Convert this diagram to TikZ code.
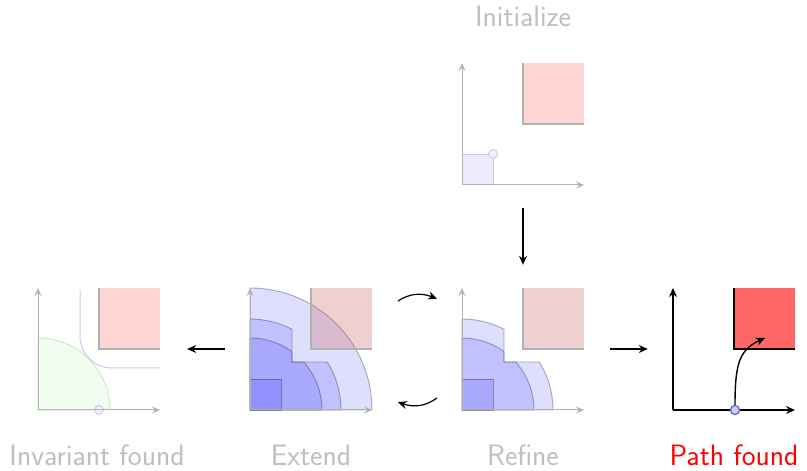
\documentclass[tikz,border=0pt]{standalone}
\usepackage{fontspec}
\usetikzlibrary{arrows.meta,bending}

\definecolor{fadegray}{RGB}{178,178,178}
\definecolor{labelgray}{RGB}{190,190,190}
\definecolor{obstlight}{RGB}{255,214,214}
\definecolor{obstmid}{RGB}{200,100,100}
\definecolor{obststrong}{RGB}{255,102,102}
\definecolor{curveblue}{RGB}{200,200,240}
\definecolor{invgreenfill}{RGB}{242,253,242}
\definecolor{invgreenline}{RGB}{200,232,200}
\definecolor{startline}{RGB}{90,90,230}
\definecolor{startfill}{RGB}{205,205,255}

\tikzset{
  lbl/.style={font=\sffamily\fontsize{29.5}{35}\selectfont, text=labelgray,
              anchor=base, inner sep=0pt},
  panel/.style={minimum width=122pt, minimum height=122pt, inner sep=0pt, draw=none},
  flow/.style={-{Stealth[length=9pt,width=8pt,inset=3pt]}, line width=1.2pt, black},
  curvedflow/.style={flow, -{Stealth[length=9pt,width=8pt,inset=3pt,bend]}},
  fadeaxis/.style={fadegray, line width=1pt, -{Stealth[length=8pt,width=7pt,inset=3pt]}},
  fullaxis/.style={black, line width=1.3pt, -{Stealth[length=9pt,width=8pt,inset=3pt]}},
  layer/.style={fill=blue, fill opacity=0.13, draw=black, draw opacity=0.3, line width=0.9pt},
  marker/.style={circle, minimum size=9pt, inner sep=0pt},
}

% axes of one panel (local origin at the lower left corner)
\newcommand\panelaxes[1]{%
  \draw[#1] (0,0) -- (122,0);
  \draw[#1] (0,0) -- (0,122);
}
% obstacle square, with its left and bottom edges stressed
\newcommand\obstaclesq[3]{%
  \fill[#1] (61,61) rectangle (122,122);
  \draw[#2, line width=#3] (61,122) -- (61,61) -- (122,61);
}
% the stepped sets: quarter discs of radius 91 and 72 with the box x>42, y>48 removed
\newcommand\steppedlayers{%
  \path[layer] (0,0) -- (0,91) arc[start angle=90, end angle=62.51, radius=91]
     -- (42,48) -- (77.31,48) arc[start angle=31.83, end angle=0, radius=91] -- cycle;
  \path[layer] (0,0) -- (0,72) arc[start angle=90, end angle=54.31, radius=72]
     -- (42,48) -- (53.67,48) arc[start angle=41.81, end angle=0, radius=72] -- cycle;
  \path[layer] (0,0) rectangle (31,31);
}

\begin{document}
\begin{tikzpicture}[x=1pt,y=1pt]
\useasboundingbox (0,0) rectangle (807,471);

% ---------- Initialize ----------
\begin{scope}[shift={(462,286)}]
  \obstaclesq{obstlight}{fadegray}{1.6pt}
  \fill[blue, opacity=0.07] (0,0) rectangle (31,31);
  \draw[curveblue, line width=0.9pt] (0,31) -- (31,31) -- (31,0);
  \draw[curveblue, line width=0.9pt, fill=blue!6] (31,31) circle[radius=4.5];
  \panelaxes{fadeaxis}
\end{scope}
\node[panel] (init) at (523,347) {};
\node[lbl] (tinit) at (523,444) {Initialize};

% ---------- Invariant found ----------
\begin{scope}[shift={(38,61)}]
  \obstaclesq{obstlight}{fadegray}{1.6pt}
  \draw[invgreenline, fill=invgreenfill, line width=0.9pt]
     (0,0) -- (0,72) arc[start angle=90, end angle=0, radius=72] -- cycle;
  \draw[curveblue, line width=1pt, rounded corners=32pt] (42,120) -- (42,42) -- (122,42);
  \draw[curveblue, line width=0.9pt, fill=blue!6] (61,0) circle[radius=4.5];
  \panelaxes{fadeaxis}
\end{scope}
\node[panel] (invariant) at (99,122) {};
\node[lbl] (tinv) at (97,5) {Invariant found};

% ---------- Extend ----------
\begin{scope}[shift={(250,61)}]
  \path[layer] (0,0) -- (0,122) arc[start angle=90, end angle=0, radius=122] -- cycle;
  \steppedlayers
  \obstaclesq{obstmid, opacity=0.3}{fadegray}{1.2pt}
  \panelaxes{fadeaxis}
\end{scope}
\node[panel] (extend) at (311,122) {};
\node[lbl] (text) at (311,5) {Extend};

% ---------- Refine ----------
\begin{scope}[shift={(462,61)}]
  \steppedlayers
  \obstaclesq{obstmid, opacity=0.3}{fadegray}{1.2pt}
  \panelaxes{fadeaxis}
\end{scope}
\node[panel] (refine) at (523,122) {};
\node[lbl] (tref) at (523,5) {Refine};

% ---------- Path found ----------
\begin{scope}[shift={(673,61)}]
  \obstaclesq{obststrong}{black}{2.2pt}
  \panelaxes{fullaxis}
  \node[marker, draw=startline, fill=startfill, line width=1.2pt] (start) at (62,0) {};
  \coordinate (goal) at (92,72);
  \draw[line width=1.4pt, -{Stealth[length=9pt,width=8pt,inset=3pt]}]
     (start.north) .. controls (62,52) and (68,62) .. (goal);
\end{scope}
\node[panel] (found) at (734,122) {};
\node[lbl, text=red] (tfound) at (734,5) {Path found};

% ---------- transitions ----------
\draw[flow, shorten <=23pt, shorten >=23pt] (init.south) -- (refine.north);
\draw[flow, shorten <=25pt, shorten >=27pt] (extend.west) -- (invariant.east);
\draw[flow, shorten <=26pt, shorten >=25pt] (refine.east) -- (found.west);

\coordinate (exttop) at (398,170);
\coordinate (reftop) at (437,172);
\coordinate (refbot) at (437,73);
\coordinate (extbot) at (398,69);
\draw[curvedflow] (exttop) to[bend left=30] (reftop);
\draw[curvedflow] (refbot) to[bend left=30] (extbot);
\end{tikzpicture}
\end{document}
